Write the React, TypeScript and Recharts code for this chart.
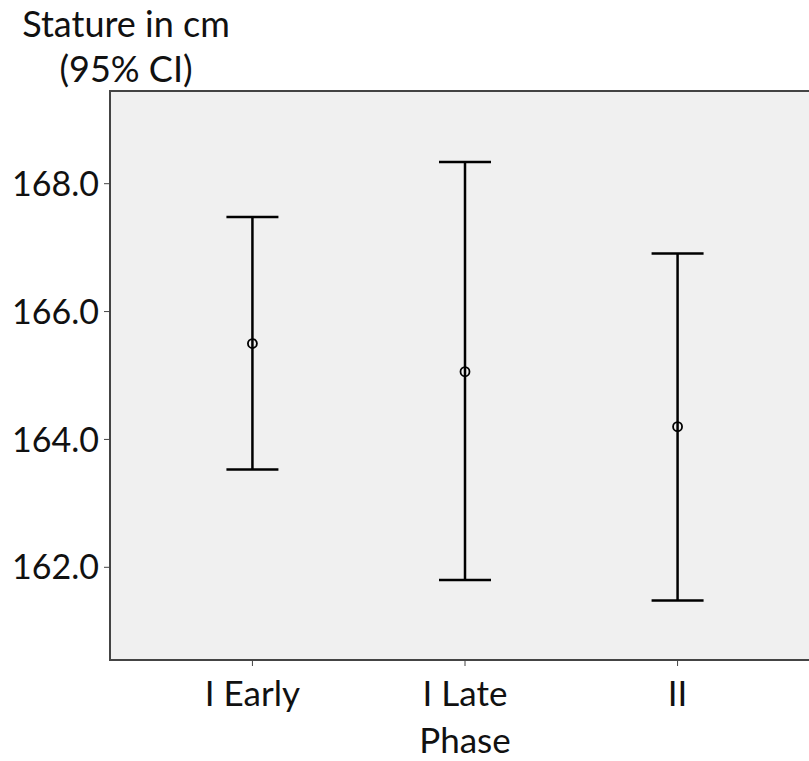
import React from 'react'
import {
    ComposedChart,
    Scatter,
    ErrorBar,
    XAxis,
    YAxis,
    ReferenceArea
} from 'recharts'

// phases, mean stature and 95% CI bounds
const phases = ['I Early', 'I Late', 'II']
const means = [165.5, 165.06, 164.2]
const lowerCI = [163.53, 161.8, 161.48]
const upperCI = [167.48, 168.34, 166.91]
const yTicks = [162, 164, 166, 168]

const chartData = phases.map((phase, i) => ({
    x: i + 1,
    phase,
    mean: means[i],
    ci: [means[i] - lowerCI[i], upperCI[i] - means[i]]
}))

const FONT = 'Lato, "Open Sans", sans-serif'
const X_DOMAIN: [number, number] = [0.33, 3.67]
const Y_DOMAIN: [number, number] = [160.55, 169.45]

const MeanDot = (props: any) => {
    const { cx, cy } = props
    return <circle cx={cx} cy={cy} r={4.5} fill="none" stroke="#000" strokeWidth={1.8} />
}

export default function App() {
    return (
        <div
            style={{
                position: 'absolute',
                left: 0,
                top: 0,
                width: 809,
                height: 761,
                overflow: 'hidden',
                background: '#fff',
                fontFamily: FONT
            }}
        >
            <div
                style={{
                    position: 'absolute',
                    left: 0,
                    top: 1,
                    width: 252,
                    textAlign: 'center',
                    fontSize: 36,
                    lineHeight: '45px',
                    color: '#111'
                }}
            >
                Stature in cm
                <br />
                (95% CI)
            </div>
            <ComposedChart
                width={830}
                height={761}
                data={chartData}
                margin={{ top: 91, right: 10, bottom: 0, left: 0 }}
            >
                <ReferenceArea
                    x1={X_DOMAIN[0]}
                    x2={X_DOMAIN[1]}
                    y1={Y_DOMAIN[0]}
                    y2={Y_DOMAIN[1]}
                    fill="#f0f0f0"
                    fillOpacity={1}
                    stroke="#444"
                    strokeWidth={2}
                />
                <XAxis
                    dataKey="x"
                    type="number"
                    domain={X_DOMAIN}
                    ticks={[1, 2, 3]}
                    tickFormatter={(v: number) => phases[v - 1]}
                    height={101}
                    tickSize={6}
                    tickMargin={15}
                    axisLine={{ stroke: '#444', strokeWidth: 2 }}
                    tickLine={{ stroke: '#444' }}
                    tick={{ fill: '#111', fontSize: 35, fontFamily: FONT }}
                    label={{
                        value: 'Phase',
                        position: 'insideBottom',
                        offset: 8,
                        fill: '#111',
                        fontSize: 35,
                        fontFamily: FONT
                    }}
                />
                <YAxis
                    type="number"
                    domain={Y_DOMAIN}
                    ticks={yTicks}
                    allowDataOverflow
                    tickFormatter={(v: number) => v.toFixed(1)}
                    width={110}
                    tickSize={6}
                    tickMargin={5}
                    axisLine={{ stroke: '#444', strokeWidth: 2 }}
                    tickLine={{ stroke: '#444' }}
                    tick={{ fill: '#111', fontSize: 34, fontFamily: FONT }}
                />
                <Scatter
                    dataKey="mean"
                    shape={<MeanDot />}
                    isAnimationActive={false}
                >
                    <ErrorBar
                        dataKey="ci"
                        direction="y"
                        width={26}
                        stroke="#000"
                        strokeWidth={2.5}
                        isAnimationActive={false}
                    />
                </Scatter>
            </ComposedChart>
        </div>
    )
}
